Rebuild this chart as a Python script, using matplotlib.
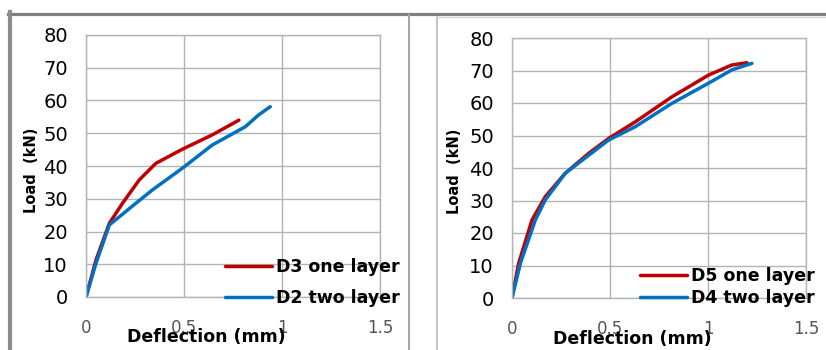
import numpy as np
import matplotlib
matplotlib.use("Agg")
import matplotlib.pyplot as plt
from matplotlib.lines import Line2D

# ==========================
# Data
# ==========================

d3_defl = [0, 0.051, 0.119, 0.186, 0.271, 0.356, 0.491, 0.644, 0.78]
d3_load = [0, 11.3, 22.5, 28.6, 35.7, 40.8, 45.1, 49.5, 54.0]

d2_defl = [0, 0.051, 0.119, 0.254, 0.339, 0.491, 0.644, 0.813, 0.881, 0.94]
d2_load = [0, 10.3, 22.0, 28.6, 32.7, 39.3, 46.4, 52.0, 55.6, 58.1]

d5_defl = [0, 0.034, 0.102, 0.17, 0.272, 0.391, 0.493, 0.629, 0.816, 1.003, 1.122, 1.199]
d5_load = [0, 10.7, 24.0, 31.2, 38.4, 44.5, 49.1, 54.2, 61.9, 68.6, 71.7, 72.4]

d4_defl = [0, 0.043, 0.119, 0.17, 0.272, 0.493, 0.629, 0.816, 1.003, 1.122, 1.224]
d4_load = [0, 10.7, 24.0, 30.2, 38.4, 48.6, 52.7, 59.9, 66.1, 70.2, 72.2]

x_ticks = [0, 0.5, 1, 1.5]
x_tick_labels = ["0", "0.5", "1", "1.5"]
y_ticks = [0, 10, 20, 30, 40, 50, 60, 70, 80]

red = "#c00000"
blue = "#0070c0"
grid_gray = "#b4b4b4"

W, H = 826, 350

fig = plt.figure(
    figsize=(W / 100, H / 100),
    dpi=100
)


def fx(px):
    return px / W


def fy(py):
    return 1 - py / H


# ==========================
# Panel frames
# ==========================

fig.add_artist(Line2D([fx(8), fx(826)], [fy(13.5), fy(13.5)], color="#7f7f7f", lw=2.3))
fig.add_artist(Line2D([fx(10), fx(10)], [fy(12), fy(350)], color="#8c8c8c", lw=3.0))
fig.add_artist(Line2D([fx(409), fx(409)], [fy(15), fy(350)], color="#a6a6a6", lw=1.5))
fig.add_artist(Line2D([fx(437), fx(437)], [fy(17), fy(350)], color="#c4c4c4", lw=1.5))
fig.add_artist(Line2D([fx(437), fx(826)], [fy(17), fy(17)], color="#d4d4d4", lw=1.0))


# ==========================
# Axes helper
# ==========================

def make_panel(left, right, top, bottom, series, legend_xy, spacing,
               xlabel_xy, ylabel_xy):

    ax = fig.add_axes([
        fx(left),
        fy(bottom),
        fx(right) - fx(left),
        fy(top) - fy(bottom)
    ])

    for xs, ys, color, label in series:
        ax.plot(
            xs,
            ys,
            color=color,
            lw=2.5,
            label=label,
            solid_capstyle="round",
            solid_joinstyle="round"
        )

    ax.set_xlim(0, 1.5)
    ax.set_ylim(0, 80)

    ax.set_xticks(x_ticks)
    ax.set_xticklabels(x_tick_labels, fontsize=12, color="#555555")
    ax.set_yticks(y_ticks)
    ax.tick_params(axis="y", labelsize=14, length=0, pad=13)
    ax.tick_params(axis="x", length=0, pad=16)

    ax.grid(True, color=grid_gray, lw=1.0)
    ax.set_axisbelow(True)

    for s in ax.spines.values():
        s.set_color(grid_gray)
        s.set_linewidth(1.0)

    ax.set_xlabel(
        "Deflection (mm)",
        fontsize=12.5,
        fontweight="bold",
        va="center"
    )
    ax.xaxis.set_label_coords(*xlabel_xy)

    ax.set_ylabel(
        "Load  (kN)",
        fontsize=10.5,
        fontweight="bold",
        va="center"
    )
    ax.yaxis.set_label_coords(*ylabel_xy)

    ax.legend(
        loc="lower left",
        bbox_to_anchor=legend_xy,
        frameon=False,
        prop={"size": 12.5, "weight": "bold"},
        handlelength=2.7,
        handletextpad=0.25,
        labelspacing=spacing,
        borderpad=0,
        borderaxespad=0
    )

    return ax


# ==========================
# Left panel
# ==========================

make_panel(
    86, 380, 35, 297,
    [
        (d3_defl, d3_load, red, "D3 one layer"),
        (d2_defl, d2_load, blue, "D2 two layer"),
    ],
    legend_xy=(0.473, -0.038),
    spacing=0.72,
    xlabel_xy=(0.41, -0.153),
    ylabel_xy=(-0.184, 0.485)
)

# ==========================
# Right panel
# ==========================

make_panel(
    512, 806, 38, 298,
    [
        (d5_defl, d5_load, red, "D5 one layer"),
        (d4_defl, d4_load, blue, "D4 two layer"),
    ],
    legend_xy=(0.435, -0.035),
    spacing=0.25,
    xlabel_xy=(0.408, -0.158),
    ylabel_xy=(-0.194, 0.488)
)

plt.savefig("out.png", dpi=100)
plt.close()
